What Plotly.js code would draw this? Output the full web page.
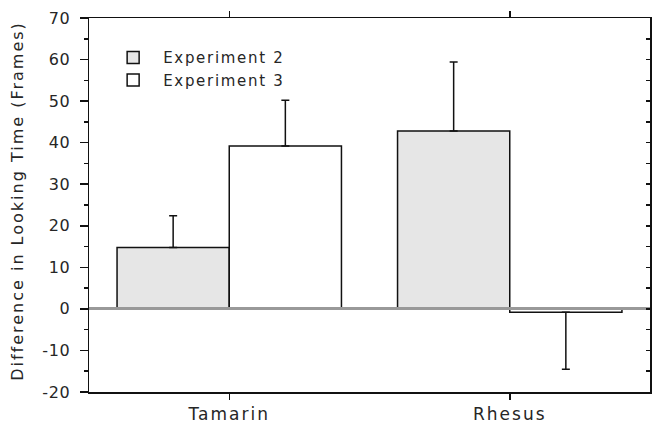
<!DOCTYPE html>
<html>
<head>
<meta charset="utf-8">
<script src="https://cdn.plot.ly/plotly-3.0.1.min.js"></script>
<style>
html,body{margin:0;padding:0;background:#fff;}
#chart{width:652px;height:423px;}
.xtick text{letter-spacing:2px;}
.ytick text{letter-spacing:0.6px;}
.legendtext{letter-spacing:1.7px;}
.annotation-text{letter-spacing:2px;}
</style>
</head>
<body>
<div id="chart"></div>
<script>
var categories = ["Tamarin", "Rhesus"];
var exp2Values = [14.8, 42.8];
var exp2ErrPlus = [7.6, 16.6];
var exp2ErrMinus = [0, 0];
var exp3Values = [39.2, -0.8];
var exp3ErrPlus = [11.0, 0];
var exp3ErrMinus = [0, 13.7];
var seriesNames = ["Experiment 2", "Experiment 3"];
var yTickVals = [-20, -10, 0, 10, 20, 30, 40, 50, 60, 70];
var yTickText = ["-20", "-10", "0", "10", "20", "30", "40", "50", "60", "70"];
var yTitle = "Difference in Looking Time (Frames)";

var font = "DejaVu Sans, Verdana, sans-serif";
var txt = "#262626";
var traces = [
  {
    type: "bar", name: seriesNames[0], x: categories, y: exp2Values,
    marker: {color: "#e6e6e6", line: {color: "#111", width: 1.5}},
    error_y: {type: "data", symmetric: false, array: exp2ErrPlus, arrayminus: exp2ErrMinus,
      color: "#111", thickness: 1.5, width: 4}
  },
  {
    type: "bar", name: seriesNames[1], x: categories, y: exp3Values,
    marker: {color: "#ffffff", line: {color: "#111", width: 1.5}},
    error_y: {type: "data", symmetric: false, array: exp3ErrPlus, arrayminus: exp3ErrMinus,
      color: "#111", thickness: 1.5, width: 4}
  },
  {type: "scatter", x: [], y: [], yaxis: "y2", showlegend: false, hoverinfo: "skip"}
];

var layout = {
  width: 652, height: 423,
  margin: {l: 89, r: 2, t: 18, b: 31},
  paper_bgcolor: "#fff", plot_bgcolor: "#fff",
  font: {family: font, size: 14, color: txt},
  barmode: "group", bargap: 0.2, bargroupgap: 0,
  showlegend: true,
  legend: {x: 0.0252, y: 0.938, xanchor: "left", yanchor: "top", bgcolor: "rgba(0,0,0,0)",
    itemwidth: 50, font: {family: font, size: 15, color: txt}, tracegroupgap: 0},
  xaxis: {
    range: [-0.5, 1.5], showline: true, linecolor: "#111", linewidth: 1.5,
    ticks: "outside", ticklen: 6, tickcolor: "#111", tickwidth: 1.5,
    mirror: "ticks", showgrid: false, zeroline: false,
    tickfont: {family: font, size: 17, color: txt}
  },
  yaxis: {
    range: [-20, 70], tickmode: "array", tickvals: yTickVals, ticktext: yTickText,
    showline: true, linecolor: "#111", linewidth: 1.5,
    ticks: "outside", ticklen: 8, tickcolor: "#111", tickwidth: 1.5, ticklabelstandoff: 6,
    minor: {dtick: 5, ticks: "outside", ticklen: 4, tickcolor: "#111", tickwidth: 1.5},
    showgrid: false, zeroline: true, zerolinecolor: "#999", zerolinewidth: 3,
    zerolinelayer: "above traces",
    tickfont: {family: font, size: 16, color: txt}
  },
  yaxis2: {
    range: [-20, 70], dtick: 5, overlaying: "y", side: "right", showline: true,
    linecolor: "#111", linewidth: 1.5, ticks: "inside", ticklen: 4, tickcolor: "#111", tickwidth: 1.5,
    showticklabels: false, showgrid: false, zeroline: false
  },
  annotations: [{
    text: yTitle, xref: "paper", yref: "paper", x: -0.1266, y: 0.511,
    xanchor: "center", yanchor: "middle", textangle: -90, showarrow: false,
    font: {family: font, size: 16, color: txt}
  }]
};

Plotly.newPlot("chart", traces, layout, {displayModeBar: false, staticPlot: true});
</script>
</body>
</html>
